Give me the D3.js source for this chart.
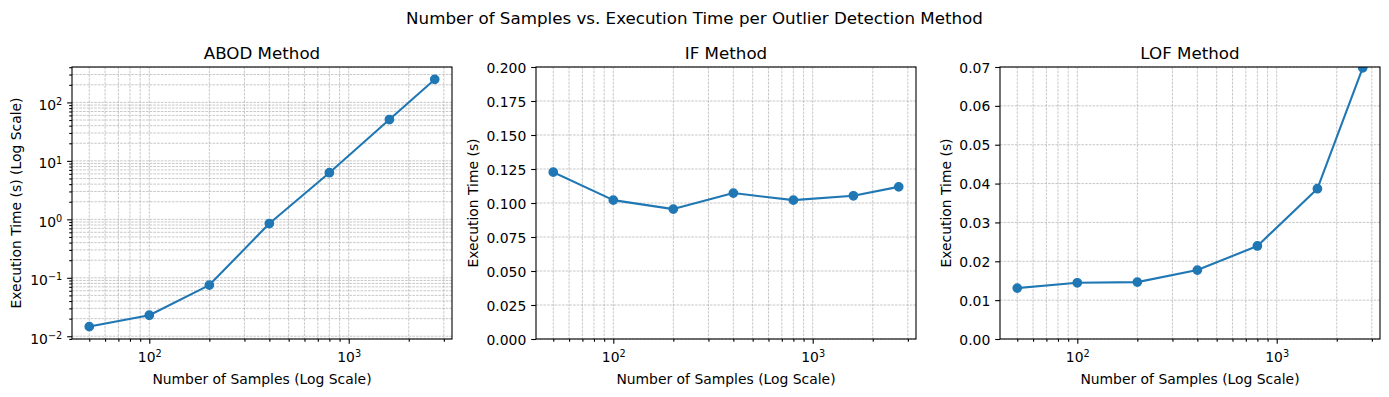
<!DOCTYPE html>
<html><head><meta charset="utf-8">
<script src="https://cdn.jsdelivr.net/npm/d3@7"></script>
<style>
body{margin:0;background:#fff}
svg{display:block}
text{font-family:"DejaVu Sans",sans-serif;fill:#000}
</style>
</head><body>
<svg id="c" width="1389" height="397"></svg>
<script>
// ---- data ----
const samples = [50, 100, 200, 400, 800, 1600, 2700];
const abodTimes = [0.0146, 0.0229, 0.075, 0.847, 6.28, 51, 248];
const ifTimes = [0.1227, 0.1021, 0.0955, 0.1073, 0.1021, 0.1053, 0.1119];
const lofTimes = [0.0131, 0.01447, 0.01464, 0.01774, 0.02394, 0.03867, 0.0698];
const panelTitles = ["ABOD Method", "IF Method", "LOF Method"];
const yAxisLabels = ["Execution Time (s) (Log Scale)", "Execution Time (s)", "Execution Time (s)"];
const xAxisLabel = "Number of Samples (Log Scale)";
const figureTitle = "Number of Samples vs. Execution Time per Outlier Detection Method";
const xMajorTicks = [100, 1000];
const abodYTicks = [0.01, 0.1, 1, 10, 100];
const ifYTicks = [0, 0.025, 0.05, 0.075, 0.1, 0.125, 0.15, 0.175, 0.2];
const ifYLabels = ["0.000","0.025","0.050","0.075","0.100","0.125","0.150","0.175","0.200"];
const lofYTicks = [0, 0.01, 0.02, 0.03, 0.04, 0.05, 0.06, 0.07];
const lofYLabels = ["0.00","0.01","0.02","0.03","0.04","0.05","0.06","0.07"];

// ---- layout / style ----
const W = 1389, H = 397;
const lefts = [72, 536, 1000];
const pw = 380, axTop = 67, axBottom = 339, ph = axBottom - axTop;
const blue = "#1f77b4";
const majLen = 4.86, minLen = 2.78, pad = 4.86;
const tickFont = 13.9;

const svg = d3.select("#c");
svg.append("rect").attr("width", W).attr("height", H).attr("fill", "#fff");

svg.append("text").attr("x", W / 2).attr("y", 23.5).attr("text-anchor", "middle")
  .attr("font-size", 16.7).text(figureTitle);

function logPad(vals) {
  const lo = Math.log10(d3.min(vals)), hi = Math.log10(d3.max(vals));
  const r = hi - lo;
  return [Math.pow(10, lo - 0.05 * r), Math.pow(10, hi + 0.05 * r)];
}

function powLabel(textSel) {
  textSel.each(function (d) {
    const e = Math.round(Math.log10(d));
    const t = d3.select(this);
    t.text(null);
    t.append("tspan").text("10");
    t.append("tspan").attr("font-size", tickFont * 0.7).attr("dy", -4.8)
      .text(e < 0 ? "\u2212" + Math.abs(e) : String(e));
  });
}

const panels = [
  { vals: abodTimes, logY: true },
  { vals: ifTimes, logY: false, ticks: ifYTicks, labels: ifYLabels, dom: [0, 0.2] },
  { vals: lofTimes, logY: false, ticks: lofYTicks, labels: lofYLabels, dom: [0, 0.07] }
];

panels.forEach((p, i) => {
  const g = svg.append("g").attr("transform", `translate(${lefts[i]},${axTop})`);
  const x = d3.scaleLog().domain(logPad(samples)).range([0, pw]);
  const y = p.logY ? d3.scaleLog().domain(logPad(p.vals)).range([ph, 0])
                   : d3.scaleLinear().domain(p.dom).range([ph, 0]);

  const xMinor = x.ticks().filter(v => !xMajorTicks.some(m => Math.abs(m - v) < 1e-9));
  const yMajor = p.logY ? abodYTicks : p.ticks;
  const yMinor = p.logY ? y.ticks().filter(v => !abodYTicks.some(m => Math.abs(m - v) / m < 1e-6)) : [];

  // grid
  const grid = g.append("g").attr("stroke", "#b0b0b0").attr("stroke-width", 0.7)
    .attr("stroke-dasharray", "2.6,1.1").attr("fill", "none");
  xMajorTicks.concat(xMinor).forEach(v => {
    grid.append("line").attr("x1", x(v)).attr("x2", x(v)).attr("y1", 0).attr("y2", ph);
  });
  yMajor.concat(yMinor).forEach(v => {
    grid.append("line").attr("y1", y(v)).attr("y2", y(v)).attr("x1", 0).attr("x2", pw);
  });

  // clip
  const cid = "clip" + i;
  g.append("clipPath").attr("id", cid).append("rect").attr("width", pw).attr("height", ph);
  const dg = g.append("g").attr("clip-path", `url(#${cid})`);
  const pts = samples.map((s, k) => [s, p.vals[k]]);
  dg.append("path").datum(pts)
    .attr("d", d3.line().x(d => x(d[0])).y(d => y(d[1])))
    .attr("fill", "none").attr("stroke", blue).attr("stroke-width", 2.08)
    .attr("stroke-linejoin", "round").attr("stroke-linecap", "square");
  dg.selectAll("circle").data(pts).join("circle")
    .attr("cx", d => x(d[0])).attr("cy", d => y(d[1])).attr("r", 4.17)
    .attr("fill", blue).attr("stroke", blue).attr("stroke-width", 1.39);

  // x axis
  const xa = g.append("g").attr("transform", `translate(0,${ph})`);
  xa.append("g").call(d3.axisBottom(x).tickValues(xMinor).tickSize(minLen).tickFormat(""));
  const xm = xa.append("g").call(d3.axisBottom(x).tickValues(xMajorTicks).tickSize(majLen).tickPadding(pad));
  xm.selectAll(".tick text").attr("y", 22.7).attr("dy", null).attr("font-size", tickFont)
    .attr("font-family", "DejaVu Sans").call(powLabel);
  xa.selectAll(".domain").remove();
  xa.selectAll(".tick line").attr("stroke", "#000").attr("stroke-width", 1.1);

  // y axis
  const ya = g.append("g");
  if (yMinor.length) ya.append("g").call(d3.axisLeft(y).tickValues(yMinor).tickSize(minLen).tickFormat(""));
  const ym = ya.append("g").call(d3.axisLeft(y).tickValues(yMajor).tickSize(majLen).tickPadding(pad)
    .tickFormat((d, k) => p.logY ? "" : p.labels[k]));
  const yt = ym.selectAll(".tick text").attr("font-size", tickFont).attr("font-family", "DejaVu Sans");
  if (p.logY) { yt.attr("dy", 7).call(powLabel); } else { yt.attr("dy", 5); }
  ya.selectAll(".domain").remove();
  ya.selectAll(".tick line").attr("stroke", "#000").attr("stroke-width", 1.1);

  // spines
  g.append("rect").attr("width", pw).attr("height", ph).attr("fill", "none")
    .attr("stroke", "#000").attr("stroke-width", 1.1);

  // titles & labels
  g.append("text").attr("x", pw / 2).attr("y", -8.3).attr("text-anchor", "middle")
    .attr("font-size", 16.7).text(panelTitles[i]);
  g.append("text").attr("x", pw / 2).attr("y", 384.2 - axTop).attr("text-anchor", "middle")
    .attr("font-size", tickFont).text(xAxisLabel);
  const ylx = [21, 478.3, 951][i] - lefts[i];
  g.append("text").attr("transform", `translate(${ylx},${ph / 2}) rotate(-90)`)
    .attr("text-anchor", "middle").attr("font-size", tickFont).text(yAxisLabels[i]);
});
</script>
</body></html>
